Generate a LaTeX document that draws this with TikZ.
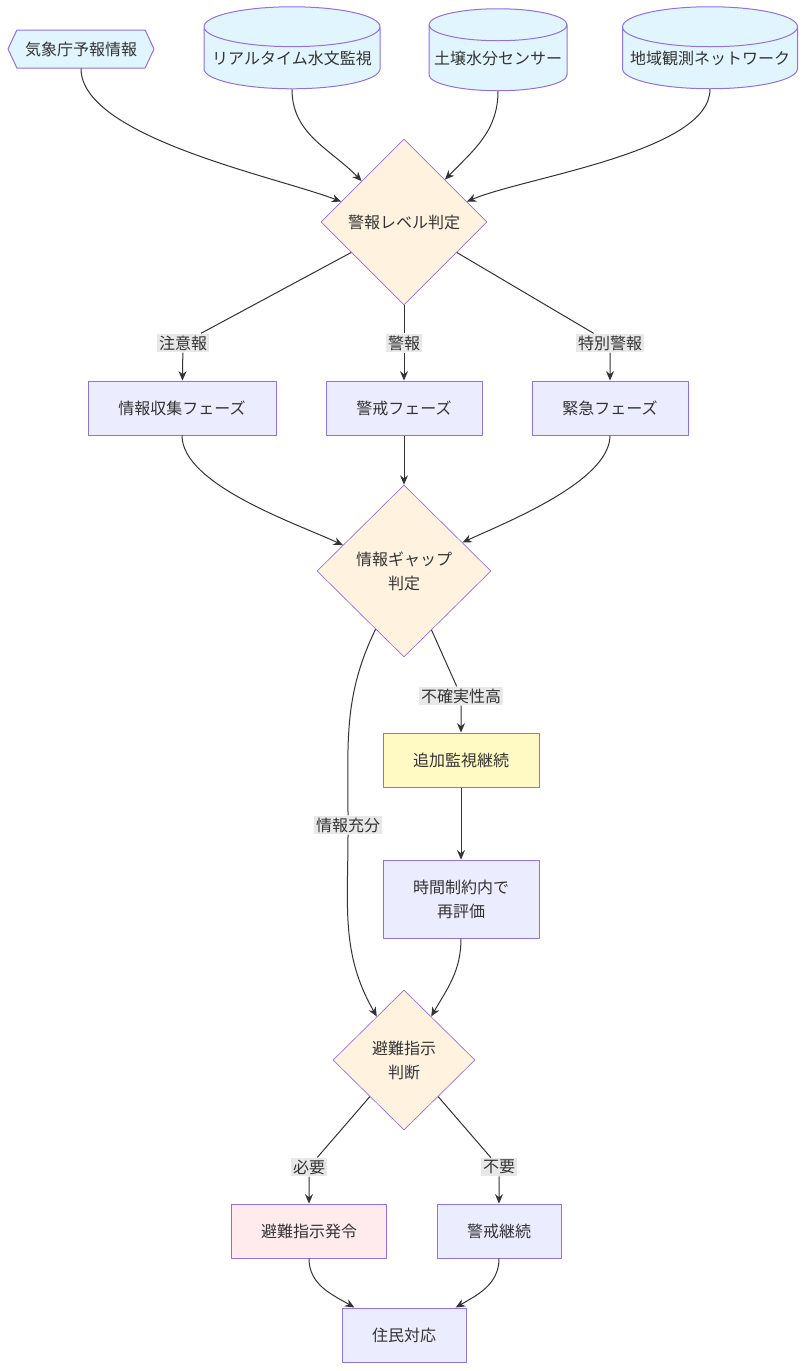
\documentclass[tikz,border=0pt]{standalone}
\usepackage{fontspec}
\setmainfont{Noto Sans CJK JP}
\usetikzlibrary{shapes.geometric,shapes.symbols,arrows.meta}

\definecolor{boxfill}{HTML}{ECECFF}
\definecolor{boxline}{HTML}{9370DB}
\definecolor{decfill}{HTML}{FFF3E0}
\definecolor{storefill}{HTML}{E1F5FE}
\definecolor{alertfill}{HTML}{FFEBEE}
\definecolor{waitfill}{HTML}{FFF9C4}
\definecolor{lblfill}{HTML}{E8E8E8}
\definecolor{ink}{HTML}{333333}

\tikzset{
	base/.style={draw=boxline, line width=0.75pt, text=ink, inner sep=0pt, align=center},
	box/.style={base, rectangle, fill=boxfill, minimum height=40.5pt},
	decision/.style={base, diamond, fill=decfill, aspect=1, line width=0.5pt},
	store/.style={base, cylinder, shape border rotate=90, aspect=0.25, fill=storefill, minimum height=61.5pt},
	source/.style={base, signal, signal to=west and east, signal pointer angle=130, fill=storefill, minimum height=28.5pt},
	lbl/.style={fill=lblfill, text=ink, inner sep=1.5pt},
	flow/.style={draw=ink, line width=0.75pt, -{Stealth[length=7pt,width=6pt]}},
}

\begin{document}
\begin{tikzpicture}[x=0.75pt, y=0.75pt, line join=round, font=\fontsize{12}{18}\selectfont]
	\fill[white] (0,0) rectangle (806,-1371);
	\useasboundingbox (0,0) rectangle (806,-1371);
	% 入力
	\node[source, minimum width=109.5pt] (jma) at (81,-49) {気象庁予報情報};
	\node[store, minimum width=132pt] (rt) at (292,-58) {リアルタイム水文監視};
	\node[store, minimum width=103.5pt] (soil) at (498,-58) {土壌水分センサー};
	\node[store, minimum width=131.25pt] (net) at (710,-58) {地域観測ネットワーク};
	% 判定
	\node[decision, minimum width=124.5pt, minimum height=124.5pt] (lvl) at (404,-222) {警報レベル判定};
	\node[box, minimum width=141pt] (info) at (182,-408) {情報収集フェーズ};
	\node[box, minimum width=117pt] (warn) at (404,-408) {警戒フェーズ};
	\node[box, minimum width=117pt] (emer) at (610,-408) {緊急フェーズ};
	\node[decision, minimum width=130.5pt, minimum height=129pt] (gap) at (404,-571) {情報ギャップ\\判定};
	\node[box, fill=waitfill, minimum width=117pt] (add) at (461,-760) {追加監視継続};
	\node[box, minimum width=117pt, minimum height=58.5pt] (time) at (461,-899) {時間制約内で\\再評価};
	\node[decision, minimum width=106.5pt, minimum height=105pt] (evac) at (404,-1060) {避難指示\\判断};
	\node[box, fill=alertfill, minimum width=116pt] (order) at (309,-1231) {避難指示発令};
	\node[box, minimum width=93pt] (keep) at (499,-1231) {警戒継続};
	\node[box, minimum width=93pt] (res) at (404,-1335) {住民対応};
	% ラベル
	\node[lbl] (l1) at (183,-343) {注意報};
	\node[lbl] (l2) at (404,-343) {警報};
	\node[lbl] (l3) at (610,-343) {特別警報};
	\node[lbl] (l4) at (461,-696) {不確実性高};
	\node[lbl] (l5) at (348,-825) {情報充分};
	\node[lbl] (l6) at (309,-1167) {必要};
	\node[lbl] (l7) at (499,-1167) {不要};
	% 接続
	\draw[flow] (jma.south) to[out=-90, in=159, looseness=0.6] (lvl.162);
	\draw[flow] (rt.south) to[out=-90, in=134] (lvl.136);
	\draw[flow] (soil.south) to[out=-90, in=46] (lvl.46);
	\draw[flow] (net.south) to[out=-90, in=23, looseness=0.6] (lvl.18);
	\draw[flow] (lvl.210) -- (l1) -- (info);
	\draw[flow] (lvl.south) -- (l2) -- (warn);
	\draw[flow] (lvl.330) -- (l3) -- (emer);
	\draw[flow] (info.south) to[out=-90, in=155, looseness=0.65] (gap.157);
	\draw[flow] (warn) -- (gap);
	\draw[flow] (emer.south) to[out=-90, in=25, looseness=0.65] (gap.26);
	\draw[flow] (gap.295) -- (l4) -- (add);
	\draw[flow] (gap.244) to[out=244, in=90] (l5.north) (l5.south) to[out=-90, in=120] (evac.122);
	\draw[flow] (add) -- (time);
	\draw[flow] (time.south) to[out=-90, in=60] (evac.58);
	\draw[flow] (evac.227) -- (l6) -- (order);
	\draw[flow] (evac.313) -- (l7) -- (keep);
	\draw[flow] (order.south) to[out=-90, in=150] (res.151);
	\draw[flow] (keep.south) to[out=-90, in=30] (res.28);
\end{tikzpicture}
\end{document}
